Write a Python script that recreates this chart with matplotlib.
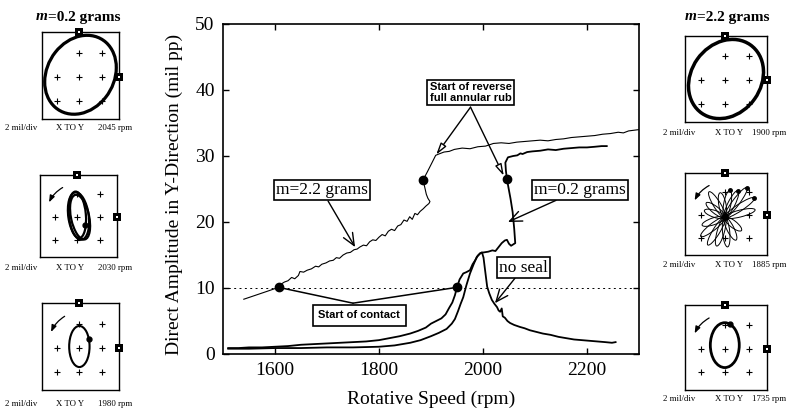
import numpy as np
import matplotlib.pyplot as plt
from matplotlib.patches import Ellipse

plt.rc('font', family='Liberation Serif')

# m = 2.2 grams run
m22_rpm = [1540, 1555, 1570, 1585, 1596, 1607, 1612, 1618, 1625, 1632, 1638, 1645, 1648,
           1655, 1662, 1670, 1678, 1684, 1690, 1698, 1705, 1712, 1718, 1724, 1731, 1738,
           1745, 1752, 1758, 1763, 1770, 1776, 1782, 1788, 1794, 1800, 1806, 1812, 1818,
           1824, 1830, 1836, 1842, 1848, 1854, 1859, 1864, 1869, 1874, 1879, 1885, 1890,
           1896, 1898, 1894, 1891, 1889, 1887, 1885, 1893, 1902, 1909, 1915, 1925, 1935,
           1945, 1960, 1975, 1990, 2005, 2020, 2035, 2050, 2065, 2080, 2095, 2110, 2125,
           2140, 2155, 2170, 2185, 2200, 2215, 2230, 2245, 2260, 2270, 2280, 2290, 2300]
m22_amp = [8.3, 8.7, 9.1, 9.5, 9.8, 10.1, 10.6, 10.9, 11.1, 11.6, 11.4, 11.9, 12.5,
           12.4, 12.7, 12.9, 13.3, 13.2, 13.6, 13.8, 14.1, 14.2, 14.6, 14.5, 15.0, 15.3,
           15.4, 15.8, 15.9, 16.2, 16.5, 16.4, 17.0, 17.3, 17.2, 17.7, 18.1, 17.9, 18.6,
           18.9, 18.7, 19.4, 19.6, 20.3, 20.1, 20.8, 20.4, 21.3, 21.1, 21.6, 22.0, 22.4,
           22.8, 23.1, 23.6, 24.2, 24.9, 25.6, 26.4, 27.6, 29.0, 30.1, 30.3, 30.6, 30.7,
           31.0, 31.2, 31.1, 31.4, 31.5, 31.9, 32.0, 31.9, 32.1, 32.2, 32.3, 32.4, 32.3,
           32.5, 32.6, 32.8, 32.9, 33.0, 33.1, 33.3, 33.4, 33.6, 33.5, 33.8, 33.9, 34.0]

# m = 0.2 grams run
m02_rpm = [1510, 1530, 1550, 1575, 1600, 1625, 1650, 1675, 1700, 1725, 1750, 1775, 1800,
           1820, 1840, 1860, 1875, 1890, 1900, 1910, 1920, 1928, 1935, 1941, 1946, 1950,
           1955, 1962, 1968, 1975, 1980, 1985, 1990, 1995, 2002, 2010, 2018, 2024, 2030,
           2036, 2042, 2046, 2050, 2054, 2058, 2062, 2060, 2057, 2053, 2049, 2046, 2044,
           2043, 2048, 2058, 2066, 2072, 2076, 2085, 2095, 2110, 2125, 2140, 2155, 2170,
           2185, 2200, 2215, 2228, 2238]
m02_amp = [0.9, 0.9, 1.0, 1.0, 1.1, 1.2, 1.4, 1.5, 1.6, 1.7, 1.8, 1.9, 2.1,
           2.4, 2.7, 3.1, 3.5, 4.0, 4.6, 5.0, 5.4, 6.0, 7.0, 7.8, 8.9, 10.1,
           11.3, 12.2, 12.4, 12.7, 13.6, 14.2, 14.9, 15.3, 15.4, 15.5, 15.7, 15.6, 16.2,
           16.8, 17.2, 17.3, 16.7, 16.4, 16.6, 16.8, 19.0, 21.5, 23.5, 25.2, 26.5, 27.8,
           29.0, 29.8, 30.0, 30.1, 30.4, 30.3, 30.6, 30.7, 30.8, 31.0, 30.9, 31.1, 31.2,
           31.3, 31.3, 31.4, 31.5, 31.5]

# no seal run
ns_rpm = [1510, 1550, 1600, 1650, 1700, 1750, 1800, 1830, 1860, 1880, 1900, 1915, 1930,
          1940, 1946, 1952, 1957, 1962, 1968, 1975, 1982, 1988, 1994, 1998, 2001, 2004,
          2008, 2012, 2017, 2022, 2027, 2030, 2033, 2036, 2038, 2042, 2047, 2052, 2060,
          2071, 2080, 2090, 2100, 2115, 2130, 2145, 2160, 2175, 2190, 2205, 2220, 2235,
          2248, 2255]
ns_amp = [0.8, 0.8, 0.9, 0.9, 1.0, 1.0, 1.1, 1.3, 1.7, 2.1, 2.7, 3.2, 3.8,
          4.6, 5.3, 6.5, 7.6, 8.6, 10.4, 12.2, 13.6, 14.7, 15.2, 15.4, 14.6, 12.7,
          10.2, 9.2, 8.2, 7.6, 7.1, 6.6, 6.4, 6.9, 5.7, 5.5, 5.0, 4.7, 4.4,
          4.1, 3.9, 3.6, 3.4, 3.1, 2.9, 2.6, 2.4, 2.2, 2.1, 2.0, 1.9, 1.8,
          1.7, 1.8]

contact_rpm = [1607, 1950]
contact_amp = [10.1, 10.1]
rub_rpm = [1885, 2046]
rub_amp = [26.4, 26.5]

left_speeds = ['2045', '2030', '1980']
right_speeds = ['1900', '1885', '1735']

W, H = 792, 413
fig = plt.figure(figsize=(W / 100, H / 100), dpi=100)


def box(x0, y0, x1, y1):
    return [x0 / W, 1 - y1 / H, (x1 - x0) / W, (y1 - y0) / H]


ax = fig.add_axes(box(223, 24, 639, 354))
ax.plot(m22_rpm, m22_amp, color='k', lw=0.8)
ax.plot(m02_rpm, m02_amp, color='k', lw=1.3)
ax.plot(ns_rpm, ns_amp, color='k', lw=1.3)
ax.axhline(10, color='k', lw=0.7, ls=(0, (2, 3.5)))
ax.plot(contact_rpm, contact_amp, 'o', color='k', ms=6)
ax.plot(rub_rpm, rub_amp, 'o', color='k', ms=6)

ax.set_xlim(1500, 2300)
ax.set_ylim(0, 50)
ax.set_xticks([1600, 1800, 2000, 2200])
ax.set_yticks([0, 10, 20, 30, 40, 50])
ax.tick_params(direction='in', top=True, right=True, length=4, width=1,
               labelsize=14, pad=6)
for s in ax.spines.values():
    s.set_linewidth(1.2)
ax.set_xlabel('Rotative Speed (rpm)', fontsize=14)
ax.set_ylabel('Direct Amplitude in Y-Direction (mil pp)', fontsize=14)
ax.xaxis.set_label_coords(0.5, -0.11)
ax.yaxis.set_label_coords(-0.095, 0.485)

sans = dict(family='Liberation Sans', weight='bold', fontsize=8)

# reverse rub callout
apex = (1976, 37.4)
for tx, ty in [(1910, 30.2), (2040, 27.0)]:
    ax.annotate('', xy=(tx, ty), xytext=apex,
                arrowprops=dict(arrowstyle='-|>,head_length=0.7,head_width=0.2',
                                fc='white', ec='k', lw=1, shrinkA=0, shrinkB=0))
ax.text(1976, 39.6, 'Start of reverse\nfull annular rub', ha='center', va='center',
        linespacing=1.1, bbox=dict(boxstyle='square,pad=0.2', fc='white', ec='k', lw=1.2),
        **sans)

# start of contact callout
for tx, ty in zip(contact_rpm, contact_amp):
    ax.annotate('', xy=(tx, ty), xytext=(1750, 7.7),
                arrowprops=dict(arrowstyle='-', lw=1.1, shrinkA=0, shrinkB=0))
ax.text(1762, 5.9, 'Start of contact', ha='center', va='center',
        bbox=dict(boxstyle='square,pad=0.5', fc='white', ec='k', lw=1.2), **sans)

arr = dict(arrowstyle='->,head_length=0.7,head_width=0.3', lw=1, shrinkA=0, shrinkB=0)
lbox = dict(boxstyle='square,pad=0.12', fc='white', ec='k', lw=1.2)
ax.annotate('m=2.2 grams', xy=(1754, 16.2), xytext=(1690, 24.8), fontsize=12.5,
            ha='center', va='center', bbox=lbox, arrowprops=arr)
ax.annotate('m=0.2 grams', xy=(2048, 20.0), xytext=(2186, 24.9), fontsize=12.5,
            ha='center', va='center', bbox=lbox, arrowprops=arr)
ax.annotate('no seal', xy=(2023, 7.7), xytext=(2078, 13.1), fontsize=12.5,
            ha='center', va='center', bbox=lbox, arrowprops=arr)

# orbit plots
grid = [(-1, 0), (-1, -1), (0, 1), (0, 0), (0, -1), (1, 1), (1, 0), (1, -1)]


def orbit_panel(px, speed, label_y, x_text, shape, spin=True):
    oax = fig.add_axes(box(*px))
    oax.set_xlim(-1.65, 1.75)
    oax.set_ylim(-1.75, 1.85)
    oax.set_xticks([])
    oax.set_yticks([])
    for s in oax.spines.values():
        s.set_linewidth(1.0)
    gx, gy = zip(*grid)
    oax.plot(gx, gy, '+', color='k', ms=4, mew=0.8)
    oax.plot([0, 1.75], [1.85, 0], 's', color='k', ms=5.5, mew=0, clip_on=False, zorder=5)
    oax.plot([0, 1.75], [1.85, 0], 's', color='w', ms=1.5, mew=0, clip_on=False, zorder=6)
    if spin:
        oax.annotate('', xy=(-1.25, 0.65), xytext=(-0.65, 1.3),
                     arrowprops=dict(arrowstyle='-|>,head_length=0.4,head_width=0.15',
                                     color='k', lw=0.9, shrinkA=0, shrinkB=0,
                                     connectionstyle='arc3,rad=0.15'))
    shape(oax)
    x0, x1, x2 = x_text
    ty = 1 - label_y / H
    fig.text(x0 / W, ty, '2 mil/div', fontsize=6.3, va='center')
    fig.text(x1 / W, ty, 'X TO Y', fontsize=6.3, va='center', ha='center')
    fig.text(x2 / W, ty, speed + ' rpm', fontsize=6.3, va='center')


def loops(params, lw, dot=None):
    def draw(oax):
        for cx, cy, w, h, ang in params:
            oax.add_patch(Ellipse((cx, cy), w, h, angle=ang, fill=False, ec='k', lw=lw))
        if dot is not None:
            oax.plot(*dot, 'o', color='k', ms=3.5)
    return draw


# petals of the unstable orbit: direction (deg), length
petal_ang = [15, 35, 55, 65, 80, 100, 120, 140, 160, 200, 220, 240, 255, 275, 295, 320]
petal_len = [1.3, 1.5, 1.6, 1.3, 1.2, 1.1, 1.3, 1.0, 0.9, 1.0, 1.3, 1.4, 1.3, 1.3, 1.1, 0.9]


def starburst(oax):
    for a, L in zip(petal_ang, petal_len):
        r = np.deg2rad(a)
        cx, cy = 0.5 * L * np.cos(r), -0.1 + 0.5 * L * np.sin(r)
        oax.add_patch(Ellipse((cx, cy), L, 0.3, angle=a, fill=False, ec='k', lw=0.7))
    for a, L in zip(petal_ang[1:5], petal_len[1:5]):
        r = np.deg2rad(a)
        oax.plot(L * np.cos(r), -0.1 + L * np.sin(r), 'o', color='k', ms=2.5)
    oax.plot([0], [-0.1], 'o', color='k', ms=4)


lx = (5, 70, 98)
orbit_panel((42, 32, 119, 119), left_speeds[0], 128, lx,
            loops([(0.05, 0.08, 3.5, 2.9, 50)], 2.3), spin=False)
orbit_panel((40, 175, 117, 257), left_speeds[1], 268, lx,
            loops([(0.05, 0.05, 0.9, 2.1, 8), (0.12, 0.0, 0.8, 2.0, 12), (0.0, 0.1, 0.75, 2.05, 5)],
                  1.6, dot=(0.35, -0.35)))
orbit_panel((42, 303, 119, 390), left_speeds[2], 404, lx,
            loops([(0.0, 0.05, 0.9, 1.7, 0)], 1.5, dot=(0.42, 0.35)))

rx = (663, 729, 752)
orbit_panel((685, 36, 767, 122), right_speeds[0], 133, rx,
            loops([(0.05, 0.05, 3.5, 2.9, 55)], 2.5), spin=False)
orbit_panel((685, 173, 767, 255), right_speeds[1], 265, rx, starburst)
orbit_panel((685, 305, 767, 390), right_speeds[2], 399, rx,
            loops([(0.0, 0.15, 1.2, 1.9, 0)], 2.0, dot=(0.2, 1.05)))

# panel headings
for xs, rest in [(48, '=0.2 grams'), (697, '=2.2 grams')]:
    fig.text(xs / W, 1 - 17 / H, 'm', fontsize=11, weight='bold', style='italic',
             ha='right', va='center')
    fig.text(xs / W, 1 - 17 / H, rest, fontsize=11, weight='bold', ha='left', va='center')

fig.savefig('out.png', dpi=100)
